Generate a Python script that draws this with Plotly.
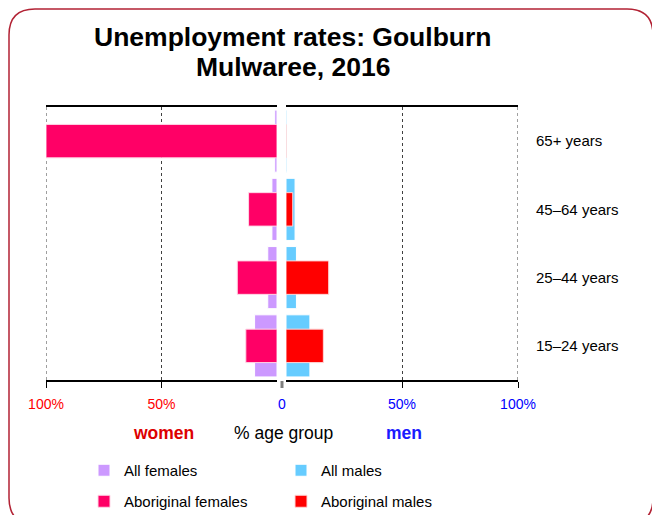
import plotly.graph_objects as go

# page body has an 8px margin, so the figure is offset by 8px in both directions
OFF = 8
W, H = 660 - OFF, 515 - OFF

age_groups = ["15–24 years", "25–44 years", "45–64 years", "65+ years"]
all_females = [9.7, 4.0, 2.2, 1.0]
aboriginal_females = [13.5, 17.2, 12.3, 100.0]
all_males = [10.3, 4.5, 3.9, 0.4]
aboriginal_males = [16.1, 18.4, 2.9, 0.0]

left_ticks = [100, 50]
right_ticks = [50, 100]

FONT = "Liberation Sans, Arial, sans-serif"
C_ALL_F = "#cc99ff"
C_ALL_M = "#66ccff"
C_AB_F = "#ff0066"
C_AB_M = "#ff0000"
GRID = "#404040"


def px_x(v):
    return (v - OFF) / W


def px_y(v):
    return 1 - (v - OFF) / H


fig = go.Figure()

fig.add_trace(go.Bar(
    x=all_females, y=age_groups, orientation="h", name="All females",
    marker=dict(color=C_ALL_F, line=dict(color="white", width=1)),
    width=0.91, xaxis="x", yaxis="y", legend="legend",
))
fig.add_trace(go.Bar(
    x=all_males, y=age_groups, orientation="h", name="All males",
    marker=dict(color=C_ALL_M, line=dict(color="white", width=1)),
    width=0.91, xaxis="x2", yaxis="y2", legend="legend",
))
fig.add_trace(go.Bar(
    x=aboriginal_females, y=age_groups, orientation="h", name="Aboriginal females",
    marker=dict(color=C_AB_F, line=dict(color="#ffd6e6", width=1)),
    width=0.49, xaxis="x", yaxis="y", legend="legend2",
))
fig.add_trace(go.Bar(
    x=aboriginal_males, y=age_groups, orientation="h", name="Aboriginal males",
    marker=dict(color=C_AB_M, line=dict(color="#ffd6d6", width=1)),
    width=0.49, xaxis="x2", yaxis="y2", legend="legend2",
))

y_dom = [px_y(380), px_y(107)]

xaxis_common = dict(
    showline=True, linecolor="black", linewidth=2, mirror=True,
    ticks="outside", ticklen=6, tickcolor="black", tickwidth=1,
    showgrid=True, gridcolor=GRID, griddash="dot", gridwidth=1,
    zeroline=False, tickfont=dict(family=FONT, size=14),
    ticklabelstandoff=4, automargin=False,
)

legend_common = dict(
    orientation="h", xref="container", yref="container",
    xanchor="left", yanchor="top", entrywidth=152,
    font=dict(family=FONT, size=15, color="black"),
    bgcolor="rgba(0,0,0,0)", traceorder="normal",
)

fig.update_layout(
    width=W, height=H,
    margin=dict(l=0, r=0, t=0, b=0, autoexpand=False),
    paper_bgcolor="white", plot_bgcolor="white",
    barmode="overlay",
    font=dict(family=FONT, color="black"),
    xaxis=dict(
        **xaxis_common, domain=[px_x(46), px_x(277)], range=[100, 0],
        tickvals=left_ticks, ticktext=[f"{v}%" for v in left_ticks],
        tickfont_color="#ff0000", anchor="y",
    ),
    xaxis2=dict(
        **xaxis_common, domain=[px_x(286), px_x(518)], range=[0, 100],
        tickvals=right_ticks, ticktext=[f"{v}%" for v in right_ticks],
        tickfont_color="#0000ff", anchor="y2",
    ),
    yaxis=dict(
        domain=y_dom, categoryorder="array", categoryarray=age_groups,
        showticklabels=False, showgrid=False, zeroline=False, anchor="x",
        range=[-0.5, 3.5], automargin=False,
    ),
    yaxis2=dict(
        domain=y_dom, categoryorder="array", categoryarray=age_groups,
        side="right", showgrid=False, zeroline=False, anchor="x2",
        range=[-0.5, 3.5], ticklabelstandoff=17, automargin=False,
        tickfont=dict(family=FONT, size=15, color="black"),
    ),
    legend=dict(**legend_common, x=px_x(84), y=px_y(454)),
    legend2=dict(**legend_common, x=px_x(84), y=px_y(485)),
)

# dotted grid lines at the outer 100% edges (plotly drops edge gridlines)
for xr in ["x", "x2"]:
    fig.add_shape(type="line", xref=xr, yref="paper", x0=100, x1=100,
                  y0=y_dom[0], y1=y_dom[1], layer="below",
                  line=dict(color=GRID, width=1, dash="dot"))


def label(text, x, y, size, color):
    fig.add_annotation(
        text=text, x=px_x(x), y=px_y(y), xref="paper", yref="paper",
        showarrow=False, xanchor="center", yanchor="middle",
        font=dict(family=FONT, size=size, color=color),
    )


# title (two lines)
label("<b>Unemployment rates: Goulburn</b>", 293, 37, 26.5, "black")
label("<b>Mulwaree, 2016</b>", 293, 67, 26.5, "black")

label("0", 282, 404, 14, "#0000ff")
label("<b>women</b>", 163, 433, 17.5, "#dd0000")
label("% age group", 283, 433, 17.5, "black")
label("<b>men</b>", 404, 433, 17.5, "#1a1aff")

# small grey centre tick
fig.add_shape(type="line", xref="paper", yref="paper",
              x0=px_x(282), x1=px_x(282), y0=px_y(381), y1=px_y(388),
              line=dict(color="#808080", width=3))

# rounded frame
x0, x1, y0, y1 = 9, 653, 9, 524
r = 26
path = (
    f"M {px_x(x0)},{px_y(y0 + r)} "
    f"Q {px_x(x0)},{px_y(y0)} {px_x(x0 + r)},{px_y(y0)} "
    f"L {px_x(x1 - r)},{px_y(y0)} "
    f"Q {px_x(x1)},{px_y(y0)} {px_x(x1)},{px_y(y0 + r)} "
    f"L {px_x(x1)},{px_y(y1 - r)} "
    f"Q {px_x(x1)},{px_y(y1)} {px_x(x1 - r)},{px_y(y1)} "
    f"L {px_x(x0 + r)},{px_y(y1)} "
    f"Q {px_x(x0)},{px_y(y1)} {px_x(x0)},{px_y(y1 - r)} Z"
)
fig.add_shape(type="path", path=path, xref="paper", yref="paper",
              line=dict(color="#b22234", width=1.5), layer="below")

fig.write_html("out.html")
